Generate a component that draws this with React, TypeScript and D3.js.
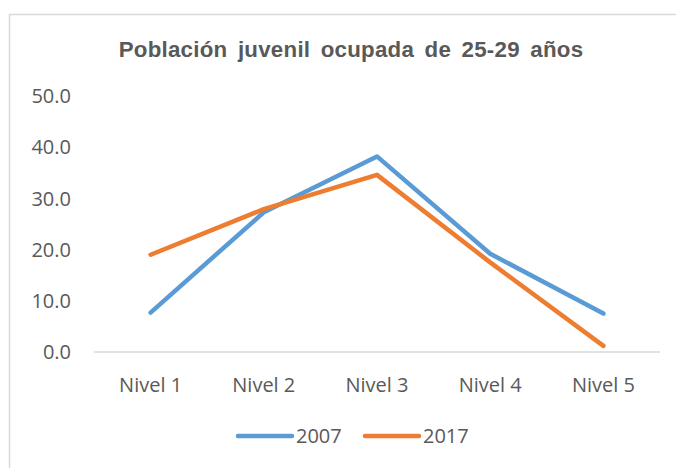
import * as d3 from 'd3';
import React, {useEffect, useRef} from 'react';

const categories = ["Nivel 1", "Nivel 2", "Nivel 3", "Nivel 4", "Nivel 5"];
const series2007 = [7.7, 27.3, 38.2, 19.2, 7.5];
const series2017 = [19.0, 27.9, 34.6, 17.5, 1.2];
const yTicks = [0, 10, 20, 30, 40, 50];

const seriesList = [
    {name: "2007", values: series2007, color: "#5B9BD5"},
    {name: "2017", values: series2017, color: "#ED7D31"}
];

const W = 676, H = 468;
const margin = {l: 94, r: 16, t: 96, b: 116};
const font = "'Liberation Sans', Arial, sans-serif";
const labelFont = "'Open Sans', 'Liberation Sans', sans-serif";

export default function App(){
    const ref = useRef<SVGSVGElement>(null);

    useEffect(() => {
        const svg = d3.select(ref.current);
        svg.selectAll("*").remove();

        const chartW = W - margin.l - margin.r;
        const chartH = H - margin.t - margin.b;

        // chart frame, the right and bottom edges fall outside the picture
        svg.append("rect")
            .attr("x", 9.5).attr("y", 14.5)
            .attr("width", W).attr("height", H)
            .attr("fill", "white")
            .attr("stroke", "#d9d9d9")
            .attr("stroke-width", 1.5);

        svg.append("text")
            .text("Población juvenil ocupada de 25-29 años")
            .attr("x", 351).attr("y", 56.5)
            .attr("text-anchor", "middle")
            .style("font-family", font)
            .style("font-weight", "bold")
            .style("font-size", "22.3px")
            .style("letter-spacing", "0.25px")
            .style("word-spacing", "4px")
            .attr("fill", "#595959");

        const x = d3.scaleBand().domain(categories).range([0, chartW]);
        const y = d3.scaleLinear().domain([0, 50]).range([chartH, 0]);

        const g = svg.append("g").attr("transform", `translate(${margin.l}, ${margin.t})`);

        // y labels
        g.selectAll(".ylab")
            .data(yTicks)
          .enter().append("text")
            .attr("class", "ylab")
            .attr("x", -23)
            .attr("y", (d) => y(d))
            .attr("dy", "0.36em")
            .attr("text-anchor", "end")
            .text((d) => d3.format(".1f")(d))
            .style("font-family", labelFont)
            .style("font-size", "20px")
            .attr("fill", "#595959");

        // baseline
        g.append("line")
            .attr("x1", 0).attr("x2", chartW)
            .attr("y1", y(0)).attr("y2", y(0))
            .attr("stroke", "#d9d9d9")
            .attr("stroke-width", 1.5);

        g.selectAll(".xlab")
            .data(categories)
          .enter().append("text")
            .attr("class", "xlab")
            .attr("x", (d) => x(d)! + x.bandwidth() / 2)
            .attr("y", chartH + 40)
            .attr("text-anchor", "middle")
            .text((d) => d)
            .style("font-family", labelFont)
            .style("font-size", "20px")
            .attr("fill", "#595959");

        const line = d3.line<number>()
            .x((d, i) => x(categories[i])! + x.bandwidth() / 2)
            .y((d) => y(d));

        seriesList.forEach((s) => {
            g.append("path")
                .datum(s.values)
                .attr("d", line)
                .attr("fill", "none")
                .attr("stroke", s.color)
                .attr("stroke-width", 4.5)
                .attr("stroke-linejoin", "round")
                .attr("stroke-linecap", "round");
        });

        // legend
        const legend = svg.append("g").attr("transform", "translate(238, 436)");
        seriesList.forEach((s, i) => {
            const lg = legend.append("g").attr("transform", `translate(${i * 127}, 0)`);
            lg.append("line")
                .attr("x1", 0).attr("x2", 54)
                .attr("y1", 0).attr("y2", 0)
                .attr("stroke", s.color)
                .attr("stroke-width", 4.5)
                .attr("stroke-linecap", "round");
            lg.append("text")
                .attr("x", 58).attr("y", 0)
                .attr("dy", "0.36em")
                .text(s.name)
                .style("font-family", labelFont)
                .style("font-size", "20px")
                .attr("fill", "#595959");
        });
    }, []);

    return (
        <svg ref={ref} width={W} height={H} style={{position: "absolute", left: 0, top: 0}} />
    );
}
